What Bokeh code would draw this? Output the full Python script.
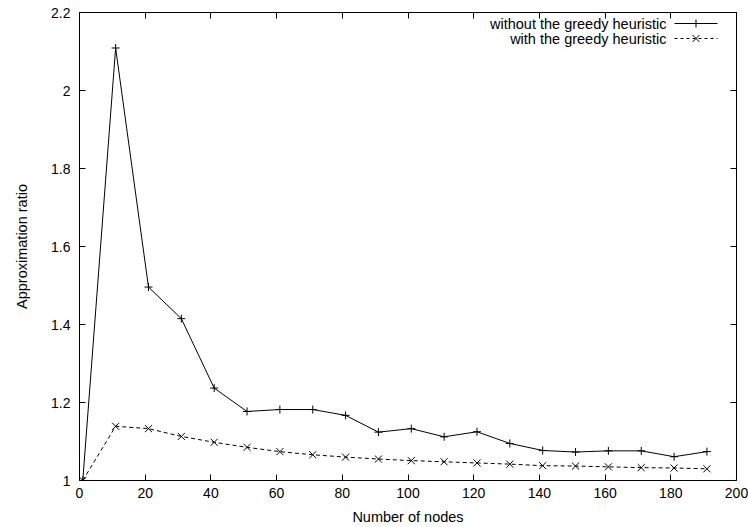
from bokeh.plotting import figure
from bokeh.models import (LinearAxis, FixedTicker, CustomJSTickFormatter, Label, Arrow,
                          ColumnDataSource, Range1d)
from bokeh.embed import file_html
from bokeh.resources import INLINE

# ---- data ----
nodes = [1, 11, 21, 31, 41, 51, 61, 71, 81, 91, 101, 111, 121, 131, 141, 151, 161, 171, 181, 191]
without_greedy = [1.0, 2.109, 1.496, 1.415, 1.237, 1.177, 1.182, 1.182, 1.167, 1.124,
                  1.133, 1.112, 1.125, 1.095, 1.077, 1.073, 1.076, 1.076, 1.061, 1.074]
with_greedy = [1.0, 1.139, 1.133, 1.113, 1.098, 1.085, 1.074, 1.066, 1.060, 1.055,
               1.051, 1.048, 1.045, 1.042, 1.038, 1.037, 1.035, 1.033, 1.032, 1.030]
x_ticks = [0, 20, 40, 60, 80, 100, 120, 140, 160, 180, 200]
y_ticks = [1.0, 1.2, 1.4, 1.6, 1.8, 2.0, 2.2]
series_labels = ["without the greedy heuristic", "with the greedy heuristic"]
x_label = "Number of nodes"
y_label = "Approximation ratio"

FONT = "Liberation Sans"
TICK_SIZE = "14px"
LABEL_SIZE = "14.5px"

p = figure(width=748, height=527, output_backend="svg", toolbar_location=None,
           x_range=Range1d(0, 200), y_range=Range1d(1, 2.2),
           min_border_left=79, min_border_right=12, min_border_top=12, min_border_bottom=47,
           x_axis_location=None, y_axis_location=None)
p.background_fill_color = "white"
p.border_fill_color = "white"
p.outline_line_color = "black"
p.outline_line_width = 1
p.xgrid.visible = False
p.ygrid.visible = False

fmt = CustomJSTickFormatter(code="return (Math.round(tick*10)/10).toString();")
blank = CustomJSTickFormatter(code="return '';")

def style_axis(ax, ticks, show_labels):
    ax.ticker = FixedTicker(ticks=ticks)
    ax.axis_line_color = None
    ax.major_tick_in = 6
    ax.major_tick_out = 0
    ax.minor_tick_line_color = None
    ax.major_tick_line_color = "black"
    ax.major_tick_line_width = 1
    ax.major_label_text_font = FONT
    ax.major_label_text_color = "black"
    ax.axis_label_text_font = FONT
    ax.axis_label_text_font_style = "normal"
    ax.axis_label_text_font_size = LABEL_SIZE
    ax.axis_label_text_color = "black"
    if show_labels:
        ax.formatter = fmt
        ax.major_label_text_font_size = TICK_SIZE
    else:
        ax.formatter = blank
        ax.major_label_text_font_size = "1px"
        ax.major_label_standoff = 0

xb = LinearAxis(axis_label=x_label)
style_axis(xb, x_ticks, True)
xb.major_label_standoff = 7
xb.axis_label_standoff = 8
p.add_layout(xb, "below")

yl = LinearAxis(axis_label=y_label)
style_axis(yl, y_ticks, True)
yl.major_label_standoff = 9
yl.axis_label_standoff = 18
p.add_layout(yl, "left")

xa = LinearAxis()
style_axis(xa, x_ticks, False)
p.add_layout(xa, "above")
yr = LinearAxis()
style_axis(yr, y_ticks, False)
p.add_layout(yr, "right")

src = ColumnDataSource(dict(x=nodes, a=without_greedy, b=with_greedy))
p.line("x", "a", source=src, line_color="black", line_width=1)
p.scatter("x", "a", source=src, marker="cross", size=8, line_color="black", line_width=1)
p.line("x", "b", source=src, line_color="black", line_width=1, line_dash="4 3")
p.scatter("x", "b", source=src, marker="x", size=10, line_color="black", line_width=1)

# ---- manual legend (text on the left, sample on the right), in frame screen units ----
rows_y = [457, 442]
text_right = 587
s0, s1 = 595, 638
mid = (s0 + s1) / 2
for i, (lab, yy) in enumerate(zip(series_labels, rows_y)):
    p.add_layout(Label(x=text_right, y=yy, x_units="screen", y_units="screen", text=lab,
                       text_align="right", text_baseline="middle", text_font=FONT,
                       text_font_size=LABEL_SIZE, text_color="black"))
    dash = "solid" if i == 0 else "3 3"
    p.add_layout(Arrow(x_start=s0, y_start=yy, x_end=s1, y_end=yy, start_units="screen",
                       end_units="screen", end=None, line_color="black", line_width=1,
                       line_dash=dash))
    if i == 0:
        p.add_layout(Arrow(x_start=mid, y_start=yy - 4, x_end=mid, y_end=yy + 4,
                           start_units="screen", end_units="screen", end=None,
                           line_color="black", line_width=1))
    else:
        for dx in (-3.5, 3.5):
            p.add_layout(Arrow(x_start=mid - dx, y_start=yy - 3.5, x_end=mid + dx, y_end=yy + 3.5,
                               start_units="screen", end_units="screen", end=None,
                               line_color="black", line_width=1))

open("out.html", "w").write(file_html(p, INLINE))
